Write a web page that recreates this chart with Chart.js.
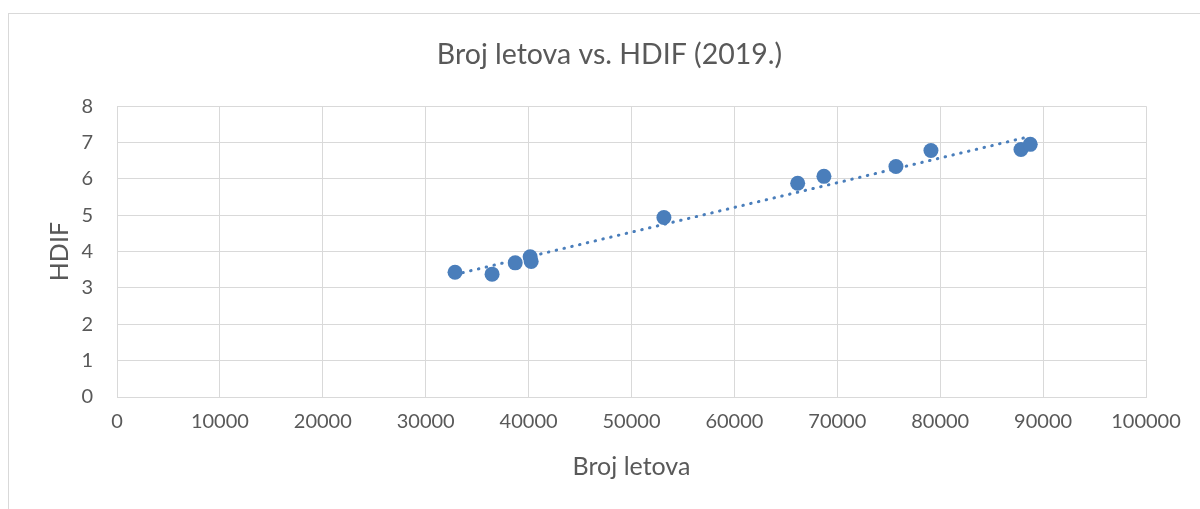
<!DOCTYPE html>
<html>
<head>
<meta charset="utf-8">
<script src="https://cdn.jsdelivr.net/npm/chart.js@4"></script>
<style>
  html, body { margin: 0; padding: 0; background: #fff; overflow: hidden; }
  #wrap { position: relative; width: 1200px; height: 509px; }
  #frame { position: absolute; left: 8px; top: 13px; width: 1300px; height: 600px; border: 1px solid #d9d9d9; }
  canvas { position: absolute; left: 0; top: 0; }
</style>
</head>
<body>
<div id="wrap">
  <div id="frame"></div>
  <canvas id="chart" width="1200" height="509"></canvas>
</div>
<script>
// flights per airport vs HDIF, 2019
const flights = [32850, 36450, 38700, 40150, 40250, 53150, 66150, 68700, 75700, 79100, 87850, 88750];
const hdif = [3.43, 3.38, 3.69, 3.86, 3.73, 4.94, 5.88, 6.07, 6.34, 6.78, 6.81, 6.95];

// trendline end points
const trendX = [32850, 88750];
const trendY = [3.37, 7.17];

const xTicks = [0, 10000, 20000, 30000, 40000, 50000, 60000, 70000, 80000, 90000, 100000];
const yTicks = [0, 1, 2, 3, 4, 5, 6, 7, 8];

const blue = '#4a7ebb';
const gridColor = '#d9d9d9';
const textColor = '#595959';
const fontFamily = 'Lato, "Open Sans", sans-serif';

new Chart(document.getElementById('chart'), {
  type: 'scatter',
  data: {
    datasets: [
      {
        label: 'HDIF',
        data: flights.map((x, i) => ({ x: x, y: hdif[i] })),
        backgroundColor: blue,
        borderColor: blue,
        pointRadius: 7.5,
        pointBorderWidth: 0
      },
      {
        label: 'Trend',
        type: 'line',
        data: trendX.map((x, i) => ({ x: x, y: trendY[i] })),
        borderColor: blue,
        borderWidth: 3,
        borderDash: [0.5, 7.5],
        borderCapStyle: 'round',
        pointRadius: 0,
        fill: false
      }
    ]
  },
  options: {
    responsive: false,
    animation: false,
    layout: { padding: { left: 19, right: 0, top: 0, bottom: 0 } },
    plugins: {
      legend: { display: false },
      tooltip: { enabled: false },
      title: {
        display: true,
        text: 'Broj letova vs. HDIF (2019.)',
        color: textColor,
        font: { family: fontFamily, size: 28.5, weight: 'normal', lineHeight: 1.2 },
        padding: { top: 38, bottom: 34 }
      }
    },
    scales: {
      x: {
        type: 'linear',
        min: 0,
        max: 100000,
        afterBuildTicks: s => { s.ticks = xTicks.map(v => ({ value: v })); },
        afterFit: s => { s.height = 112; },
        grid: { color: gridColor, drawTicks: false },
        border: { color: gridColor },
        ticks: {
          color: textColor,
          padding: 13,
          maxRotation: 0,
          autoSkip: false,
          font: { family: fontFamily, size: 20 },
          callback: v => String(v)
        },
        title: {
          display: true,
          text: 'Broj letova',
          color: textColor,
          font: { family: fontFamily, size: 25 },
          padding: { top: 0, bottom: 27 }
        }
      },
      y: {
        type: 'linear',
        min: 0,
        max: 8,
        afterBuildTicks: s => { s.ticks = yTicks.map(v => ({ value: v })); },
        afterFit: s => { s.width = 98; },
        grid: { color: gridColor, drawTicks: false },
        border: { color: gridColor },
        ticks: {
          color: textColor,
          padding: 24,
          font: { family: fontFamily, size: 20 }
        },
        title: {
          display: true,
          text: 'HDIF',
          color: textColor,
          font: { family: fontFamily, size: 25 },
          padding: { top: 26, bottom: 0 }
        }
      },
      // empty right-hand axis that only reserves the margin right of the plot
      yRight: {
        type: 'linear',
        position: 'right',
        display: true,
        grid: { display: false, drawTicks: false },
        border: { display: false },
        ticks: { display: false },
        afterFit: s => { s.width = 54; }
      }
    }
  }
});
</script>
</body>
</html>
